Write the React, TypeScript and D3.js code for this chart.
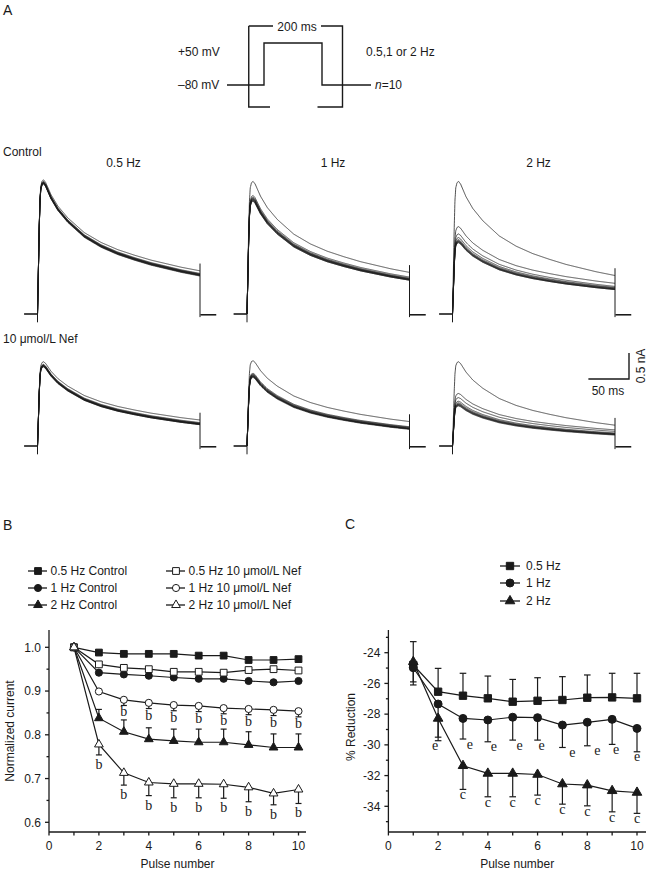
import React from 'react';
import * as d3 from 'd3';

// ---------- Panel B data (normalized current) ----------
const pulses = [1, 2, 3, 4, 5, 6, 7, 8, 9, 10];
const ctrl05 = [1.0, 0.988, 0.985, 0.985, 0.985, 0.981, 0.981, 0.971, 0.971, 0.973];
const nef05 = [1.0, 0.961, 0.953, 0.95, 0.944, 0.944, 0.942, 0.948, 0.95, 0.947];
const ctrl1 = [1.0, 0.942, 0.938, 0.935, 0.931, 0.928, 0.928, 0.923, 0.92, 0.923];
const nef1 = [1.0, 0.899, 0.88, 0.873, 0.868, 0.866, 0.861, 0.859, 0.857, 0.854];
const ctrl2 = [1.0, 0.838, 0.807, 0.79, 0.786, 0.783, 0.783, 0.777, 0.771, 0.771];
const nef2 = [1.0, 0.778, 0.713, 0.691, 0.688, 0.688, 0.687, 0.68, 0.666, 0.675];
const ctrl2Upper = [null, 0.858, 0.834, 0.816, 0.813, 0.813, 0.813, 0.807, 0.802, 0.802];
const nef2Lower = [null, 0.754, 0.685, 0.661, 0.656, 0.656, 0.655, 0.647, 0.64, 0.643];
const nef1Lower = [null, null, 0.867, 0.86, 0.855, 0.853, 0.848, 0.846, 0.844, 0.841];
const nef1Sig = [null, null, 'b', 'b', 'b', 'b', 'b', 'b', 'b', 'b'];
const nef2Sig = [null, 'b', 'b', 'b', 'b', 'b', 'b', 'b', 'b', 'b'];
const bYTicks = [0.6, 0.7, 0.8, 0.9, 1.0];

// ---------- Panel C data (% reduction) ----------
const red05 = [-24.8, -26.54, -26.8, -26.97, -27.19, -27.13, -27.08, -26.93, -26.91, -26.97];
const red05Upper = [-23.28, -25.02, -25.34, -25.52, -25.74, -25.63, -25.56, -25.45, -25.34, -25.34];
const red1 = [-24.98, -27.34, -28.28, -28.38, -28.2, -28.23, -28.71, -28.53, -28.34, -28.93];
const red1Lower = [-26.1, -29.73, -29.62, -29.8, -29.69, -29.69, -30.17, -30.06, -29.97, -30.45];
const red2 = [-24.59, -28.28, -31.36, -31.86, -31.86, -31.93, -32.55, -32.62, -32.99, -33.1];
const red2Lower = [-25.9, -29.5, -32.9, -33.38, -33.38, -33.27, -33.86, -33.97, -34.36, -34.46];
const red1Sig = [null, 'e', 'e', 'e', 'e', 'e', 'e', 'e', 'e', 'e'];
const red2Sig = [null, null, 'c', 'c', 'c', 'c', 'c', 'c', 'c', 'c'];
const cYTicks = [-34, -32, -30, -28, -26, -24];
const xTicks = [0, 2, 4, 6, 8, 10];

// ---------- Panel A data (current traces, nA) ----------
const templateT = [0, 1, 2, 3, 4, 5.5, 7.5, 10, 16.6, 25, 37.2, 57.6, 78.2, 98.7, 119.1, 139.7, 160.2, 176.6, 200];
const templateI = [0, 0.3, 0.62, 0.85, 0.95, 0.99, 1.0, 0.98, 0.887, 0.8, 0.71, 0.597, 0.522, 0.467, 0.425, 0.387, 0.357, 0.333, 0.305];
const freqLabels = ['0.5 Hz', '1 Hz', '2 Hz'];
const ctrlPeaks = [
  [2.58, 2.55, 2.54, 2.53, 2.53, 2.52, 2.52, 2.51, 2.51, 2.5],
  [2.55, 2.28, 2.25, 2.23, 2.22, 2.21, 2.2, 2.19, 2.18, 2.17],
  [2.55, 1.68, 1.54, 1.47, 1.43, 1.41, 1.4, 1.39, 1.38, 1.37],
];
const ctrlEnds = [
  [0.83, 0.78, 0.77, 0.76, 0.76, 0.75, 0.75, 0.74, 0.74, 0.73],
  [0.8, 0.71, 0.69, 0.68, 0.67, 0.67, 0.66, 0.66, 0.65, 0.65],
  [0.74, 0.59, 0.53, 0.51, 0.5, 0.49, 0.48, 0.48, 0.47, 0.47],
];
const nefPeaks = [
  [1.62, 1.57, 1.56, 1.55, 1.55, 1.54, 1.54, 1.53, 1.53, 1.52],
  [1.64, 1.4, 1.38, 1.37, 1.36, 1.35, 1.34, 1.34, 1.33, 1.32],
  [1.62, 1.01, 0.93, 0.86, 0.83, 0.81, 0.8, 0.79, 0.78, 0.77],
];
const nefEnds = [
  [0.5, 0.45, 0.44, 0.43, 0.43, 0.42, 0.42, 0.42, 0.41, 0.41],
  [0.47, 0.37, 0.36, 0.35, 0.34, 0.34, 0.33, 0.33, 0.33, 0.32],
  [0.4, 0.31, 0.28, 0.25, 0.24, 0.23, 0.23, 0.22, 0.22, 0.21],
];

const SANS = "'Liberation Sans', Arial, sans-serif";
const SERIF = "'Liberation Serif', 'Times New Roman', serif";
const INK = '#1a1a1a';

const symType = (s: string) => (s === 'square' ? d3.symbolSquare : s === 'circle' ? d3.symbolCircle : d3.symbolTriangle);

function Marker({ shape, filled, x, y, size }: any) {
  const d = d3.symbol().type(symType(shape)).size(size)() as string;
  return <path d={d} transform={`translate(${x},${y})`} fill={filled ? INK : '#fff'} stroke={INK} strokeWidth={1} />;
}

// template interpolation
const tmpl = d3.scaleLinear().domain(templateT).range(templateI).clamp(true);
const T_END = templateI[templateI.length - 1];
const T_PEAK = 7.5;
function sweepValue(t: number, P: number, E: number) {
  const v = tmpl(t);
  if (t <= T_PEAK) return P * v;
  return E + (P - E) * (v - T_END) / (1 - T_END);
}

const MS_PX = 0.8125;
const stepXs = [37.5, 247, 452.5];
const rowBase = [314, 446];
const NA_PX = 52;

function TracePanel({ stepX, base, peaks, ends }: any) {
  const x = d3.scaleLinear().domain([0, 200]).range([stepX, stepX + 200 * MS_PX]);
  const y = d3.scaleLinear().domain([0, 1]).range([base, base - NA_PX]);
  const tGrid: number[] = [];
  for (let t = 0; t <= 200; t += 0.5) tGrid.push(t);
  const curve = d3.line<[number, number]>().x((d) => x(d[0])).y((d) => y(d[1])).curve(d3.curveMonotoneX);
  const lin = d3.line<[number, number]>().x((d) => x(d[0])).y((d) => y(d[1]));
  const maxE = d3.max(ends as number[]) as number;
  return (
    <g fill="none" stroke={INK}>
      <path d={lin([[-16.5, 0], [0, 0]]) as string} strokeWidth={1.6} />
      <path d={lin([[220, -0.015], [200.5, -0.015]]) as string} strokeWidth={1.6} />
      <path d={lin([[0, 0], [0, -0.16]]) as string} strokeWidth={1} />
      <path d={lin([[200, maxE + 0.14], [200, -0.06]]) as string} strokeWidth={1} />
      {peaks.map((P: number, i: number) => (
        <path key={i} d={curve(tGrid.map((t) => [t, sweepValue(t, P, ends[i])] as [number, number])) as string} strokeWidth={0.85} strokeOpacity={0.9} />
      ))}
    </g>
  );
}

function PanelA() {
  const yTop = 26, yBot = 107, lx = 248.75, rx = 342.5;
  return (
    <g fontFamily={SANS} fill={INK}>
      <text x={3} y={15} fontSize={14}>A</text>
      <g fill="none" stroke={INK} strokeWidth={1.4}>
        <path d={`M${lx},${yTop}H273 M321,${yTop}H${rx}V${yBot}H317.5 M270,${yBot}H${lx}V${yTop}`} />
        <path d="M227,85H264V43H322V85H371" />
      </g>
      <text x={297} y={30.5} fontSize={12} textAnchor="middle">200 ms</text>
      <text x={178} y={56} fontSize={12}>+50 mV</text>
      <text x={178} y={89} fontSize={12}>–80 mV</text>
      <text x={366} y={56} fontSize={12}>0.5,1 or 2 Hz</text>
      <text x={375} y={89} fontSize={12}><tspan fontStyle="italic">n</tspan>=10</text>

      <text x={3} y={156} fontSize={12}>Control</text>
      {freqLabels.map((f, i) => (
        <text key={f} x={stepXs[i] + 86} y={167} fontSize={12} textAnchor="middle">{f}</text>
      ))}
      <text x={3} y={342.5} fontSize={12}>10 μmol/L Nef</text>
      {stepXs.map((sx, i) => (
        <TracePanel key={'c' + i} stepX={sx} base={rowBase[0]} peaks={ctrlPeaks[i]} ends={ctrlEnds[i]} />
      ))}
      {stepXs.map((sx, i) => (
        <TracePanel key={'n' + i} stepX={sx} base={rowBase[1]} peaks={nefPeaks[i]} ends={nefEnds[i]} />
      ))}
      {/* scale bar */}
      <path d={`M${629 - 50 * MS_PX},379H629V${379 - 0.5 * NA_PX}`} fill="none" stroke={INK} strokeWidth={1.4} />
      <text x={608} y={395} fontSize={12} textAnchor="middle">50 ms</text>
      <text transform="translate(645,366) rotate(-90)" fontSize={12} textAnchor="middle">0.5 nA</text>
    </g>
  );
}

function Axes({ x, y, x0, xEnd, yTop, yBot, yTicks, yMinor, fmt }: any) {
  return (
    <g stroke={INK} strokeWidth={1.3} fill="none">
      <line x1={x0} x2={x0} y1={yTop} y2={yBot} />
      <line x1={x0} x2={xEnd} y1={yBot} y2={yBot} />
      {yTicks.map((t: number) => (
        <line key={'y' + t} x1={x0 - 4} x2={x0} y1={y(t)} y2={y(t)} />
      ))}
      {yMinor.map((t: number) => (
        <line key={'ym' + t} x1={x0 - 2.5} x2={x0} y1={y(t)} y2={y(t)} />
      ))}
      {d3.range(0, 11).map((t: number) => (
        <line key={'x' + t} x1={x(t)} x2={x(t)} y1={yBot} y2={yBot + 3.5} />
      ))}
      <g stroke="none" fill={INK} fontFamily={SANS} fontSize={12}>
        {yTicks.map((t: number) => (
          <text key={'yl' + t} x={x0 - 8} y={y(t) + 4.3} textAnchor="end">{fmt(t)}</text>
        ))}
        {xTicks.map((t: number) => (
          <text key={'xl' + t} x={x(t)} y={849.5} textAnchor="middle">{t}</text>
        ))}
        <text x={(x0 + xEnd) / 2} y={868} textAnchor="middle">Pulse number</text>
      </g>
    </g>
  );
}

function Series({ x, y, vals, shape, filled, size }: any) {
  const line = d3.line<number>().x((_, i) => x(pulses[i])).y((d) => y(d));
  return <path d={line(vals) as string} fill="none" stroke={INK} strokeWidth={1.2} />;
}
function Markers({ x, y, vals, shape, filled, size }: any) {
  return (
    <g>
      {vals.map((v: number, i: number) => (
        <Marker key={i} shape={shape} filled={filled} x={x(pulses[i])} y={y(v)} size={size} />
      ))}
    </g>
  );
}
function ErrBars({ x, y, vals, ends, cap }: any) {
  return (
    <g stroke={INK} strokeWidth={1.2}>
      {vals.map((v: number, i: number) =>
        ends[i] == null ? null : (
          <g key={i}>
            <line x1={x(pulses[i])} x2={x(pulses[i])} y1={y(v)} y2={y(ends[i])} />
            <line x1={x(pulses[i]) - cap} x2={x(pulses[i]) + cap} y1={y(ends[i])} y2={y(ends[i])} />
          </g>
        )
      )}
    </g>
  );
}
function SigLabels({ x, y, ends, labels, dy, dxs }: any) {
  return (
    <g fontFamily={SERIF} fontSize={14} fill={INK} textAnchor="middle">
      {labels.map((l: string | null, i: number) =>
        l == null ? null : (
          <text key={i} x={x(pulses[i]) + (dxs ? dxs[i] : 0)} y={y(ends[i]) + dy}>{l}</text>
        )
      )}
    </g>
  );
}

function PanelB() {
  const x = d3.scaleLinear().domain([0, 10]).range([49, 298.5]);
  const y = d3.scaleLinear().domain([0.6, 1.0]).range([822.3, 647.3]);
  const SQ = 46, CI = 40, TR = 33;
  const series = [
    { vals: ctrl05, shape: 'square', filled: true, size: SQ, label: '0.5 Hz Control' },
    { vals: ctrl1, shape: 'circle', filled: true, size: CI, label: '1 Hz Control' },
    { vals: ctrl2, shape: 'triangle', filled: true, size: TR, label: '2 Hz Control' },
    { vals: nef05, shape: 'square', filled: false, size: SQ, label: '0.5 Hz 10 μmol/L Nef' },
    { vals: nef1, shape: 'circle', filled: false, size: CI, label: '1 Hz 10 μmol/L Nef' },
    { vals: nef2, shape: 'triangle', filled: false, size: TR, label: '2 Hz 10 μmol/L Nef' },
  ];
  const legendRows = [571, 588, 605];
  return (
    <g>
      <text x={3} y={529.5} fontSize={14} fontFamily={SANS} fill={INK}>B</text>
      {series.map((s, i) => {
        const col = i < 3 ? 0 : 1;
        const ly = legendRows[i % 3];
        const lx0 = col === 0 ? 28 : 166;
        return (
          <g key={s.label}>
            <line x1={lx0} x2={lx0 + 19} y1={ly} y2={ly} stroke={INK} strokeWidth={1.3} />
            <Marker shape={s.shape} filled={s.filled} x={lx0 + 10} y={ly} size={s.size} />
            <text x={lx0 + 22.5} y={ly + 4.3} fontSize={12} fontFamily={SANS} fill={INK}>{s.label}</text>
          </g>
        );
      })}
      <Axes x={x} y={y} x0={49} xEnd={306} yTop={630} yBot={832} yTicks={bYTicks}
        yMinor={[0.65, 0.75, 0.85, 0.95]} fmt={(t: number) => t.toFixed(1)} />
      <text transform="translate(14,731) rotate(-90)" fontSize={12} fontFamily={SANS} fill={INK} textAnchor="middle">Normalized current</text>
      <ErrBars x={x} y={y} vals={ctrl2} ends={ctrl2Upper} cap={3} />
      <ErrBars x={x} y={y} vals={nef2} ends={nef2Lower} cap={3} />
      <ErrBars x={x} y={y} vals={nef1} ends={nef1Lower} cap={3} />
      {series.map((s) => <Series key={'l' + s.label} x={x} y={y} vals={s.vals} />)}
      {series.map((s) => <Markers key={'m' + s.label} x={x} y={y} vals={s.vals} shape={s.shape} filled={s.filled} size={s.size} />)}
      <SigLabels x={x} y={y} ends={nef1Lower} labels={nef1Sig} dy={11} />
      <SigLabels x={x} y={y} ends={nef2Lower} labels={nef2Sig} dy={14} />
    </g>
  );
}

const eShift = [0, -3, 7, 6, 7, 4, 10, 10, 4, 0];

function PanelC() {
  const x = d3.scaleLinear().domain([0, 10]).range([388.4, 637]);
  const y = d3.scaleLinear().domain([-34, -24]).range([806.3, 652.7]);
  const SQ = 54, CI = 50, TR = 40;
  const series = [
    { vals: red05, shape: 'square', size: SQ, label: '0.5 Hz' },
    { vals: red1, shape: 'circle', size: CI, label: '1 Hz' },
    { vals: red2, shape: 'triangle', size: TR, label: '2 Hz' },
  ];
  const legendRows = [566, 583, 601];
  return (
    <g>
      <text x={345} y={529} fontSize={14} fontFamily={SANS} fill={INK}>C</text>
      {series.map((s, i) => (
        <g key={s.label}>
          <line x1={500} x2={520} y1={legendRows[i]} y2={legendRows[i]} stroke={INK} strokeWidth={1.3} />
          <Marker shape={s.shape} filled x={510} y={legendRows[i]} size={s.size} />
          <text x={526} y={legendRows[i] + 4.3} fontSize={12} fontFamily={SANS} fill={INK}>{s.label}</text>
        </g>
      ))}
      <Axes x={x} y={y} x0={388.4} xEnd={646} yTop={630} yBot={832} yTicks={cYTicks}
        yMinor={[-35, -33, -31, -29, -27, -25, -23]} fmt={(t: number) => String(t)} />
      <text transform="translate(355,727) rotate(-90)" fontSize={12} fontFamily={SANS} fill={INK} textAnchor="middle">% Reduction</text>
      <ErrBars x={x} y={y} vals={red05} ends={red05Upper} cap={3.3} />
      <ErrBars x={x} y={y} vals={red1} ends={red1Lower} cap={3.3} />
      <ErrBars x={x} y={y} vals={red2} ends={red2Lower} cap={3.3} />
      {series.map((s) => <Series key={'l' + s.label} x={x} y={y} vals={s.vals} />)}
      {series.map((s) => <Markers key={'m' + s.label} x={x} y={y} vals={s.vals} shape={s.shape} filled size={s.size} />)}
      <SigLabels x={x} y={y} ends={red1Lower} labels={red1Sig} dy={9.5} dxs={eShift} />
      <SigLabels x={x} y={y} ends={red2Lower} labels={red2Sig} dy={10} />
    </g>
  );
}

export default function App() {
  return (
    <svg width={650} height={871} viewBox="0 0 650 871"
      style={{ position: 'absolute', left: 0, top: 0, background: '#fff' }}>
      <rect width={650} height={871} fill="#fff" />
      <PanelA />
      <PanelB />
      <PanelC />
    </svg>
  );
}
